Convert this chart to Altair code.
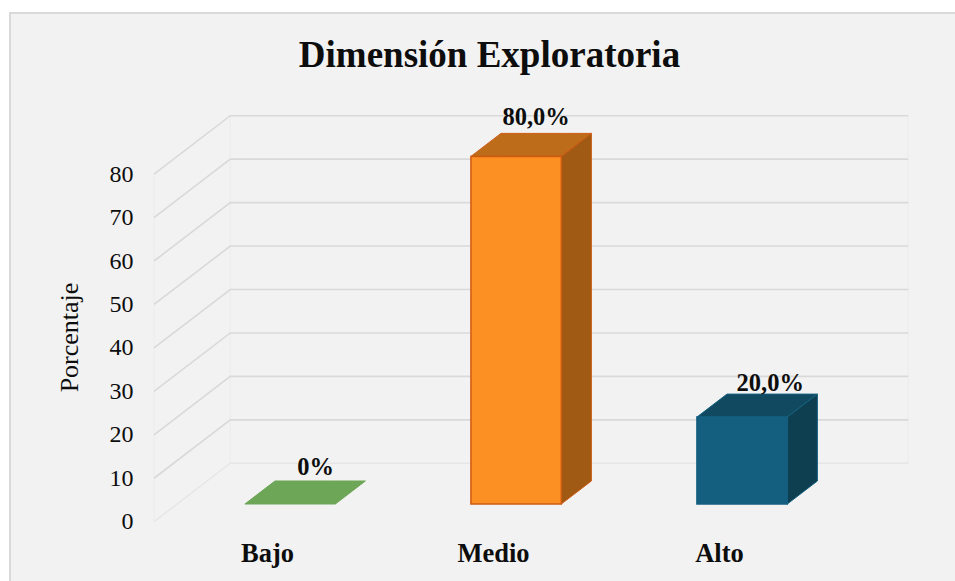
import json

import altair as alt
import pandas as pd

# Chart values
CATEGORIES = ["Bajo", "Medio", "Alto"]
VALUES = [0, 80, 20]
VALUE_LABELS = ["0%", "80,0%", "20,0%"]
TICKS = [0, 10, 20, 30, 40, 50, 60, 70, 80]

FRONT = ["#6da657", "#fd9023", "#145f80"]
TOP = ["#6da657", "#bd6c19", "#114960"]
SIDE = ["#6da657", "#a05a13", "#0e3f50"]
EDGE = ["#6da657", "#cf5a12", "#145f80"]

# Oblique projection: a point at depth d (0 = front of the wall, 1 = back)
# moves right and up by these amounts, in scale units.
SHIFT_X = 0.3376
SHIFT_Y = 13.44
BAR_HALF = 0.2
BAR_NEAR = 0.303
BAR_FAR = 0.697
WALL_END = 3.0

# Plot-area size in pixels and the scale factors that tie data to it
PX_PER_CAT = 226
PX_PER_PCT = 4.345
PLOT_W = 754
PLOT_H = 406.7
LEFT = 154
TOP_PAD = 115

FONT = "Liberation Serif"
INK = "#0d0d0d"


def px(x, d):
    return x + d * SHIFT_X


def py(v, d):
    return v + d * SHIFT_Y


x_scale = alt.Scale(domain=[0, PLOT_W / PX_PER_CAT], nice=False, zero=False)
y_scale = alt.Scale(domain=[0, PLOT_H / PX_PER_PCT], nice=False, zero=False)

# Walls: each gridline runs from the front of the side wall to the back, then across
grid_rows = []
for t in TICKS:
    for order, (x, d) in enumerate([(0, 0), (0, 1), (WALL_END, 1)]):
        grid_rows.append({"tick": t, "order": order, "x": px(x, d), "y": py(t, d)})
grid = pd.DataFrame(grid_rows)

edge_rows = []
for name, (x, d) in {"near": (0, 0), "far": (0, 1), "end": (WALL_END, 1)}.items():
    for order, t in enumerate([TICKS[0], TICKS[-1]]):
        edge_rows.append({"edge": name, "order": order, "x": px(x, d), "y": py(t, d)})
edges = pd.DataFrame(edge_rows)

# Bar faces
front_rows, top_rows, side_rows, label_rows = [], [], [], []
for i, (cat, val) in enumerate(zip(CATEGORIES, VALUES)):
    xl, xr = i + 0.5 - BAR_HALF, i + 0.5 + BAR_HALF
    base_n, base_f = py(0, BAR_NEAR), py(0, BAR_FAR)
    top_n, top_f = py(val, BAR_NEAR), py(val, BAR_FAR)
    if val > 0:
        front_rows.append({"cat": cat, "x": px(xl, BAR_NEAR), "x2": px(xr, BAR_NEAR),
                           "y": base_n, "y2": top_n, "fill": FRONT[i], "edge": EDGE[i]})
        for x, lo, hi in [(px(xr, BAR_NEAR), base_n, top_n), (px(xr, BAR_FAR), base_f, top_f)]:
            side_rows.append({"cat": cat, "x": x, "y": lo, "y2": hi, "fill": SIDE[i], "edge": EDGE[i]})
    for x, lo, hi in [
        (px(xl, BAR_NEAR), top_n, top_n),
        (px(xl, BAR_FAR), top_n, top_f),
        (px(xr, BAR_NEAR), top_n, top_f),
        (px(xr, BAR_FAR), top_f, top_f),
    ]:
        top_rows.append({"cat": cat, "x": x, "y": lo, "y2": hi, "fill": TOP[i], "edge": EDGE[i]})

# Value captions sit just above the rear edge of each bar's top face
LABEL_NUDGE_X = [0.046, 0.022, 0.058]
LABEL_NUDGE_Y = [1.2, 1.7, 0.4]
for i, val in enumerate(VALUES):
    label_rows.append({
        "x": px(i + 0.5, BAR_FAR - 0.197) + LABEL_NUDGE_X[i],
        "y": py(val, BAR_FAR) + LABEL_NUDGE_Y[i],
        "text": VALUE_LABELS[i],
    })

front = pd.DataFrame(front_rows)
top = pd.DataFrame(top_rows)
side = pd.DataFrame(side_rows)
labels = pd.DataFrame(label_rows)

x_axis = alt.Axis(
    values=[i + 0.5 for i in range(len(CATEGORIES))],
    labelExpr=f"{json.dumps(CATEGORIES)}[datum.value - 0.5]",
    title=None, grid=False, ticks=False, domain=False, zindex=1,
    labelFont=FONT, labelFontSize=26.5, labelFontWeight="bold", labelColor=INK,
    labelPadding=19, labelAngle=0,
)
y_axis = alt.Axis(
    values=TICKS, title="Porcentaje", grid=False, ticks=False, domain=False, zindex=1,
    labelFont=FONT, labelFontSize=24, labelColor=INK, labelPadding=21,
    titleFont=FONT, titleFontSize=26, titleFontWeight="normal", titleColor=INK,
    titleX=-72, titleY=222,
)

# Panel behind everything, running from the outer frame to the window edge
panel = alt.Chart(pd.DataFrame({"a": [0]})).mark_rect(
    fill="#f2f2f2", stroke="#d9d9d9", strokeWidth=2
).encode(
    x=alt.value(10 - LEFT),
    x2=alt.value(PLOT_W + 60),
    y=alt.value(13 - TOP_PAD),
    y2=alt.value(PLOT_H + 80),
)

X = alt.X("x:Q", scale=x_scale, axis=x_axis)
Y = alt.Y("y:Q", scale=y_scale, axis=y_axis)

wall_edges = alt.Chart(edges).mark_line(color="#ececec", strokeWidth=1).encode(
    x=X, y=Y, detail="edge:N", order="order:Q"
)
grid_lines = alt.Chart(grid[grid.tick > 0]).mark_line(color="#d9d9d9", strokeWidth=1.6).encode(
    x=X, y=Y, detail="tick:N", order="order:Q"
)
floor_line = alt.Chart(grid[grid.tick == 0]).mark_line(color="#e6e6e6", strokeWidth=1.4).encode(
    x=X, y=Y, detail="tick:N", order="order:Q"
)

fill = alt.Color("fill:N", scale=None)
stroke = alt.Stroke("edge:N", scale=None)

top_faces = alt.Chart(top).mark_area(strokeWidth=1).encode(
    x=X, y=Y, y2="y2:Q", detail="cat:N", fill=fill, stroke=stroke
)
side_faces = alt.Chart(side).mark_area(strokeWidth=1).encode(
    x=X, y=Y, y2="y2:Q", detail="cat:N", fill=fill, stroke=stroke
)
front_faces = alt.Chart(front).mark_rect(strokeWidth=1.5).encode(
    x=X, x2="x2:Q", y=Y, y2="y2:Q", fill=fill, stroke=stroke
)
captions = alt.Chart(labels).mark_text(
    font=FONT, fontSize=24.5, fontWeight="bold", color=INK, baseline="alphabetic", dy=-1
).encode(x=X, y=Y, text="text:N")

chart = (
    alt.layer(panel, wall_edges, grid_lines, floor_line, top_faces, side_faces, front_faces, captions)
    .properties(
        width=PLOT_W,
        height=PLOT_H,
        padding={"left": LEFT, "top": TOP_PAD, "right": 955 - LEFT - PLOT_W, "bottom": 581 - TOP_PAD - PLOT_H},
        autosize=alt.AutoSizeParams(type="none"),
        background="#ffffff",
        title=alt.TitleParams(
            "Dimensión Exploratoria", font=FONT, fontSize=37, fontWeight="bold", color=INK,
            anchor="middle", frame="group", offset=-92, dx=-41.5, baseline="alphabetic",
        ),
    )
    .configure_view(stroke=None)
)

chart.save("out.html", embed_options={"renderer": "svg", "actions": False})
